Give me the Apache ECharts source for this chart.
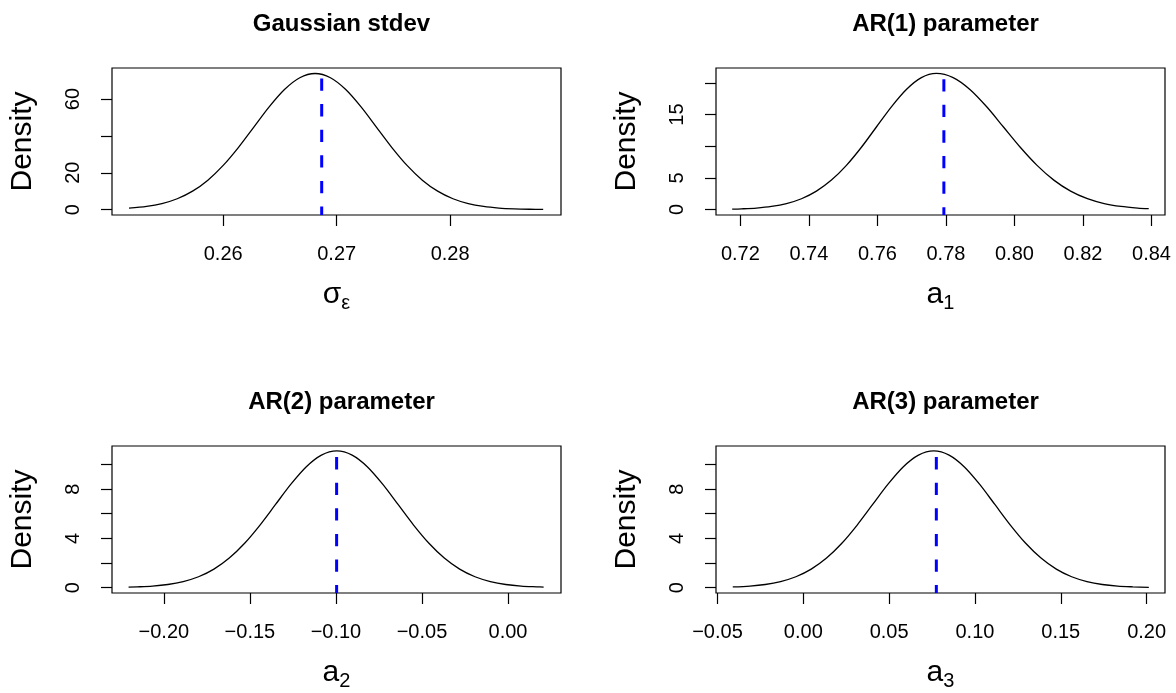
<!DOCTYPE html>
<html><head><meta charset="utf-8">
<script src="https://cdn.jsdelivr.net/npm/echarts@6/dist/echarts.min.js"></script>
<style>html,body{margin:0;padding:0;background:#fff}#c{width:1176px;height:693px}</style>
</head><body><div id="c"></div>
<script>
const FONT = '"Liberation Sans", Arial, Helvetica, sans-serif';

// ---- data ----
const titles = ['Gaussian stdev', 'AR(1) parameter', 'AR(2) parameter', 'AR(3) parameter'];
const xNameMain = ['σ', 'a', 'a', 'a'];
const xNameSub = ['ε', '1', '2', '3'];
const yName = 'Density';

const sigmaX = [0.2517,0.25325,0.2546,0.25595,0.2573,0.25865,0.2600,0.26135,0.2627,0.26405,0.2654,0.26675,0.2681,0.26945,0.2708,0.27215,0.2735,0.27485,0.2762,0.27755,0.2789,0.28025,0.2816,0.28295,0.2843,0.28565,0.2870,0.2882];
const sigmaY = [0.73,1.68,3.24,5.88,10.0,15.99,24.0,33.83,44.82,55.78,65.22,71.62,73.9,71.62,65.22,55.78,44.82,33.83,24.0,15.99,10.0,5.88,3.24,1.68,0.82,0.38,0.16,0.07];

const a1X = [0.7176,0.7203,0.7247,0.72908,0.73345,0.73783,0.7422,0.74658,0.75095,0.75533,0.7597,0.76408,0.76845,0.77283,0.7772,0.7821,0.787,0.7919,0.7968,0.8017,0.8066,0.8115,0.8164,0.8213,0.8262,0.8311,0.836,0.8392];
const a1Y = [0.06,0.11,0.24,0.49,0.94,1.71,2.91,4.65,6.98,9.84,13.04,16.23,18.97,20.84,21.5,20.84,18.97,16.23,13.04,9.84,6.98,4.65,2.91,1.71,0.94,0.49,0.24,0.15];

const a2X = [-0.2205,-0.2155,-0.2066,-0.19768,-0.18875,-0.17983,-0.1709,-0.16198,-0.15305,-0.14413,-0.1352,-0.12628,-0.11735,-0.10843,-0.0995,-0.09058,-0.08165,-0.07273,-0.0638,-0.05488,-0.04595,-0.03703,-0.0281,-0.01918,-0.01025,-0.00133,0.0076,0.01653,0.0207];
const a2Y = [0.04,0.06,0.12,0.25,0.49,0.88,1.50,2.40,3.60,5.08,6.73,8.38,9.80,10.76,11.1,10.76,9.80,8.38,6.73,5.08,3.60,2.40,1.50,0.88,0.49,0.25,0.12,0.06,0.04];

const a3X = [-0.0411,-0.0311,-0.02218,-0.01325,-0.00433,0.0046,0.01353,0.02245,0.03138,0.0403,0.04923,0.05815,0.06708,0.076,0.08493,0.09385,0.10278,0.1117,0.12063,0.12955,0.13848,0.1474,0.15633,0.16525,0.17418,0.1831,0.19203,0.2013];
const a3Y = [0.05,0.12,0.25,0.49,0.88,1.50,2.40,3.60,5.08,6.73,8.38,9.80,10.76,11.1,10.76,9.80,8.38,6.73,5.08,3.60,2.40,1.50,0.88,0.49,0.25,0.12,0.06,0.02];

const meanX = [0.26868, 0.7794, -0.0996, 0.0775];
const meanTop = [71.2, 20.6, 10.6, 10.6];

const xMin = [0.2502, 0.71288, -0.23013, -0.05087];
const xMax = [0.28977, 0.84395, 0.03079, 0.21072];
const yMin = [-2.95, -0.86, -0.44, -0.44];
const yMax = [76.9, 22.36, 11.50, 11.50];

const xTicks1 = [0.26, 0.27, 0.28];
const xTicks2 = [0.72, 0.74, 0.76, 0.78, 0.80, 0.82, 0.84];
const xTicks3 = [-0.20, -0.15, -0.10, -0.05, 0.00];
const xTicks4 = [-0.05, 0.00, 0.05, 0.10, 0.15, 0.20];
const xLabels1 = ['0.26', '0.27', '0.28'];
const xLabels2 = ['0.72', '0.74', '0.76', '0.78', '0.80', '0.82', '0.84'];
const xLabels3 = ['\u22120.20', '\u22120.15', '\u22120.10', '\u22120.05', '0.00'];
const xLabels4 = ['\u22120.05', '0.00', '0.05', '0.10', '0.15', '0.20'];

const yTicks1 = [0, 20, 40, 60];
const yTicks2 = [0, 5, 10, 15, 20];
const yTicks3 = [0, 2, 4, 6, 8, 10];
const yTicks4 = [0, 2, 4, 6, 8, 10];
const yLabels1 = [0, 20, 60];
const yLabels2 = [0, 5, 15];
const yLabels3 = [0, 4, 8];
const yLabels4 = [0, 4, 8];

// ---- layout ----
const boxes = [
  { left: 112, top: 68, width: 449, height: 147 },
  { left: 716, top: 68, width: 449, height: 147 },
  { left: 112, top: 446, width: 449, height: 147 },
  { left: 716, top: 446, width: 449, height: 147 }
];
const titleTop = [7, 7, 385, 385];

const curvesX = [sigmaX, a1X, a2X, a3X];
const curvesY = [sigmaY, a1Y, a2Y, a3Y];
const xTicks = [xTicks1, xTicks2, xTicks3, xTicks4];
const xLabels = [xLabels1, xLabels2, xLabels3, xLabels4];
const yTicks = [yTicks1, yTicks2, yTicks3, yTicks4];
const yLabels = [yLabels1, yLabels2, yLabels3, yLabels4];

const grid = [], xAxis = [], yAxis = [], series = [], title = [];
for (let i = 0; i < 4; i++) {
  const b = boxes[i];
  grid.push({ left: b.left, top: b.top, width: b.width, height: b.height, show: true,
    borderColor: '#000', borderWidth: 1.2, backgroundColor: 'transparent', containLabel: false });
  title.push({ text: titles[i], left: b.left + b.width / 2, top: titleTop[i], textAlign: 'center',
    textStyle: { fontSize: 24, fontWeight: 'bold', color: '#000', fontFamily: FONT } });
  const xt = xTicks[i], xl = xLabels[i];
  xAxis.push({
    gridIndex: i, type: 'value', min: xMin[i], max: xMax[i], position: 'bottom',
    axisLine: { show: false, onZero: false }, splitLine: { show: false },
    axisTick: { show: true, inside: false, length: 11, lineStyle: { color: '#000', width: 1.2 }, customValues: xt },
    axisLabel: { show: true, customValues: xt, margin: 29, fontSize: 20, color: '#000', fontFamily: FONT,
      formatter: v => { const k = xt.findIndex(t => Math.abs(t - v) < 1e-9); return k >= 0 ? xl[k] : ''; } },
    name: '{m|' + xNameMain[i] + '}{s|' + xNameSub[i] + '}', nameLocation: 'middle', nameGap: 61,
    nameTextStyle: { rich: {
      m: { fontSize: 30, color: '#000', fontFamily: FONT },
      s: { fontSize: 20, color: '#000', fontFamily: FONT, padding: [17, 0, 0, 0] } } }
  });
  yAxis.push({
    gridIndex: i, type: 'value', min: yMin[i], max: yMax[i], position: 'left',
    axisLine: { show: false, onZero: false }, splitLine: { show: false },
    axisTick: { show: true, inside: false, length: 11, lineStyle: { color: '#000', width: 1.2 }, customValues: yTicks[i] },
    axisLabel: { show: true, customValues: yLabels[i], rotate: 90, margin: 29, fontSize: 20, color: '#000', fontFamily: FONT,
      formatter: v => String(Math.round(v)) },
    name: yName, nameLocation: 'middle', nameRotate: 90, nameGap: 74,
    nameTextStyle: { fontSize: 30, color: '#000', fontFamily: FONT }
  });
  series.push({
    type: 'line', xAxisIndex: i, yAxisIndex: i, symbol: 'none', smooth: 0.3, silent: true,
    lineStyle: { color: '#000', width: 1.3 },
    data: curvesX[i].map((x, j) => [x, curvesY[i][j]])
  });
  series.push({
    type: 'line', xAxisIndex: i, yAxisIndex: i, symbol: 'none', silent: true, clip: true,
    lineStyle: { color: '#0000ff', width: 3, type: [12.3, 13.3], cap: 'butt' },
    data: [[meanX[i], meanTop[i]], [meanX[i], yMin[i]]]
  });
}

const chart = echarts.init(document.getElementById('c'), null, { renderer: 'canvas' });
chart.setOption({ animation: false, backgroundColor: '#fff', title, grid, xAxis, yAxis, series });
</script></body></html>
